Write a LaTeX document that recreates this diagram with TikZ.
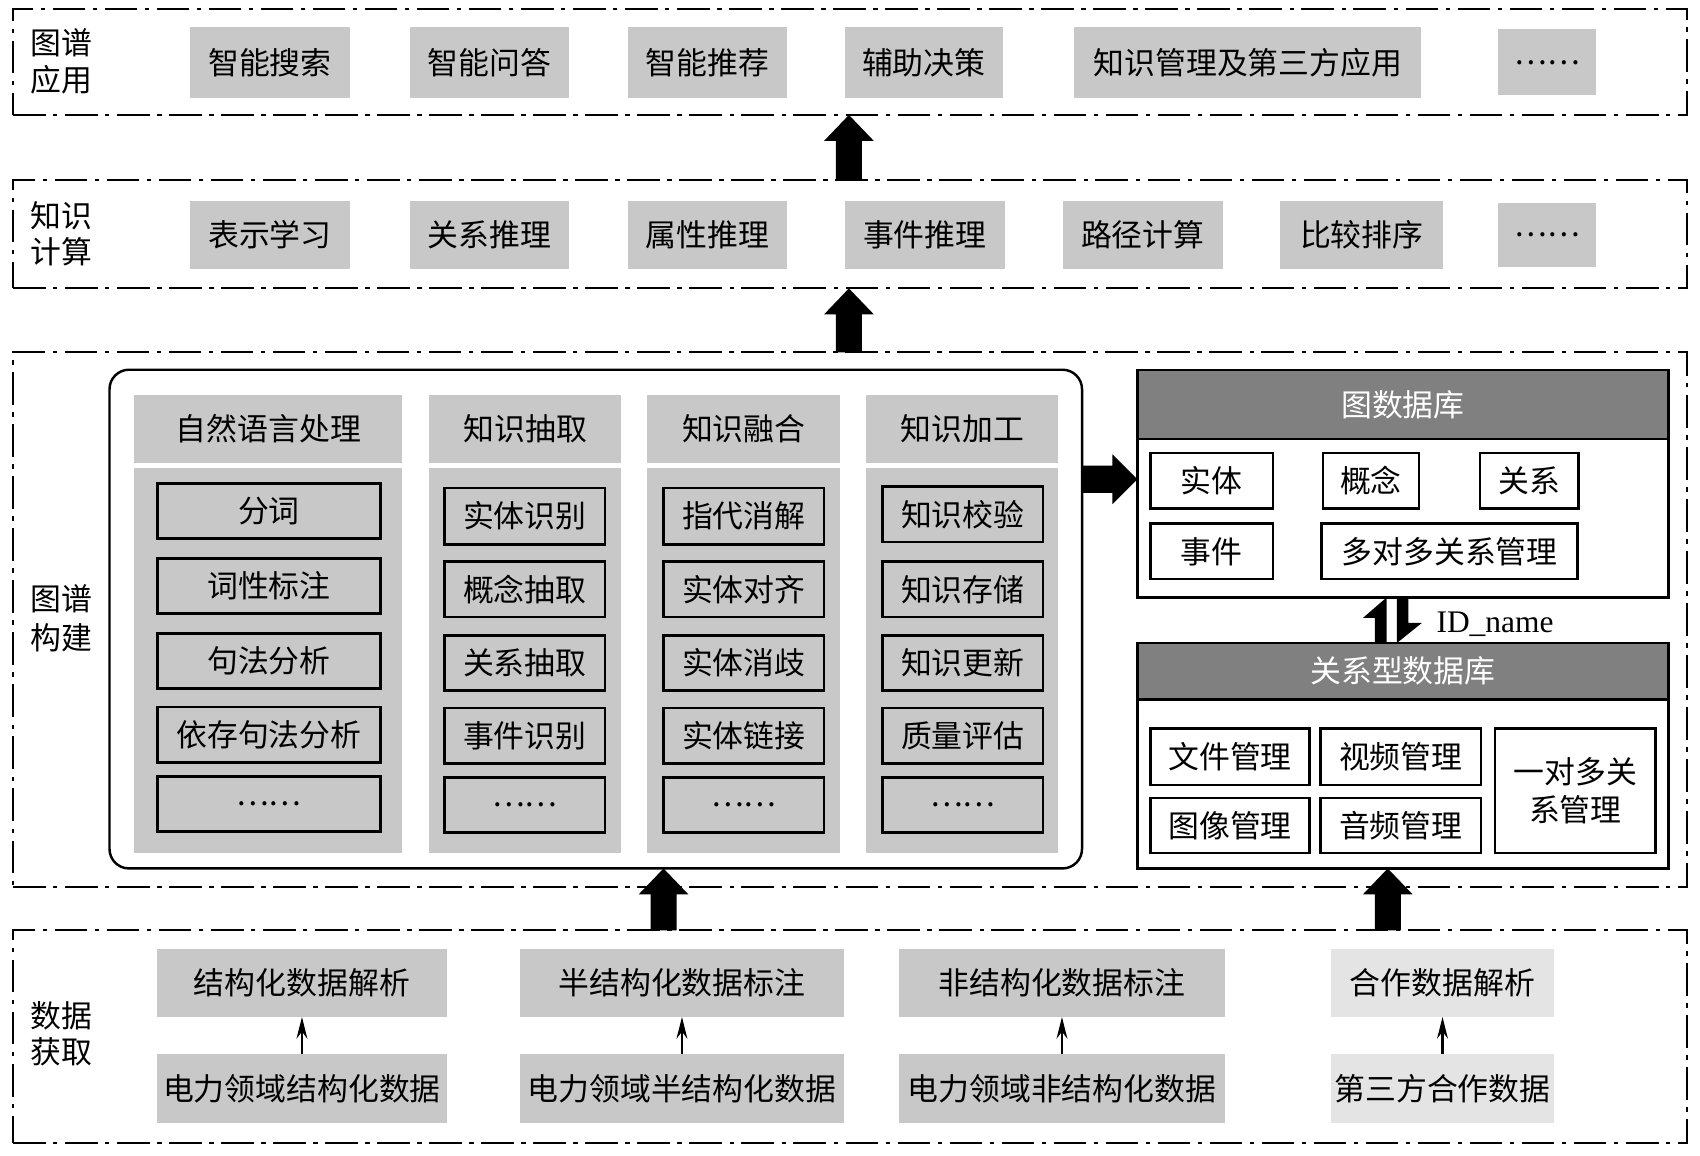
\documentclass[tikz,border=0pt]{standalone}
\usepackage{fontspec}
\setmainfont{Noto Sans CJK SC}
\newfontfamily\tnr{Liberation Serif}
\usetikzlibrary{arrows.meta,calc}
\definecolor{boxgray}{RGB}{200,200,200}
\definecolor{hdrgray}{RGB}{128,128,128}
\definecolor{lgray}{RGB}{228,228,228}
\newcommand\fs{\fontsize{16.2pt}{19pt}\selectfont}
\newcommand\mybox[7]{\node[#2, minimum width={(#4-#3)*0.02cm}, minimum height={(#6-#5)*0.02cm}] (#1) at ({(#3+#4)/2},{(#5+#6)/2}) {#7};}
\newcommand\bigup[2]{\fill let \p1=(#1), \p2=(#2) in ({\x1-0.24cm},\y1) -- ({\x1-0.24cm},{\y2-0.48cm}) -- ({\x1-0.46cm},{\y2-0.48cm}) -- (\x1,\y2) -- ({\x1+0.46cm},{\y2-0.48cm}) -- ({\x1+0.24cm},{\y2-0.48cm}) -- ({\x1+0.24cm},\y1) -- cycle;}
\newcommand\bigright[2]{\fill let \p1=(#1), \p2=(#2) in (\x1,{\y1-0.25cm}) -- ({\x2-0.46cm},{\y1-0.25cm}) -- ({\x2-0.46cm},{\y1-0.46cm}) -- (\x2,\y1) -- ({\x2-0.46cm},{\y1+0.46cm}) -- ({\x2-0.46cm},{\y1+0.25cm}) -- (\x1,{\y1+0.25cm}) -- cycle;}
\begin{document}
\begin{tikzpicture}[x=0.02cm,y=-0.02cm,
  every node/.style={font=\fs, inner sep=0pt, outer sep=0pt},
  layer/.style={draw, line width=0.04cm, dash pattern=on 0.6cm off 0.14cm on 0.08cm off 0.14cm},
  gbox/.style={fill=boxgray},
  lbox/.style={fill=lgray},
  item/.style={draw, line width=0.05cm, fill=boxgray},
  wbox/.style={draw, line width=0.045cm, fill=white},
  dbbox/.style={draw, line width=0.045cm},
  hdr/.style={draw, line width=0.045cm, fill=hdrgray, text=white},
  rbox/.style={draw, line width=0.045cm, rounded corners=0.36cm},
  lab/.style={align=center},
  sarrow/.style={line width=0.04cm, -{Stealth[length=0.4cm,width=0.2cm]}}]
\useasboundingbox (0,0) rectangle (1568,1066);
% layers
\mybox{L1}{layer}{12}{1556}{8}{106}{}
\mybox{L2}{layer}{12}{1556}{166}{266}{}
\mybox{L3}{layer}{12}{1556}{325}{818}{}
\mybox{L4}{layer}{12}{1556}{858}{1054}{}
\node[lab] (t1) at (57,56.5) {图谱\\应用};
\node[lab] (t2) at (57,215.5) {知识\\计算};
\node[lab,font=\fontsize{16.2pt}{20.5pt}\selectfont] (t3) at (57,570.5) {图谱\\构建};
\node[lab] (t4) at (57,953.5) {数据\\获取};
% row 1
\mybox{a1}{gbox}{175}{323}{25}{90}{智能搜索}
\mybox{a2}{gbox}{378}{525}{25}{90}{智能问答}
\mybox{a3}{gbox}{579}{726}{25}{90}{智能推荐}
\mybox{a4}{gbox}{779}{925}{25}{90}{辅助决策}
\mybox{a5}{gbox}{991}{1311}{25}{90}{知识管理及第三方应用}
\mybox{a6}{gbox}{1382}{1472}{27}{88}{……}
% row 2
\mybox{b1}{gbox}{175}{323}{185}{248}{表示学习}
\mybox{b2}{gbox}{378}{525}{185}{248}{关系推理}
\mybox{b3}{gbox}{579}{726}{185}{248}{属性推理}
\mybox{b4}{gbox}{779}{927}{185}{248}{事件推理}
\mybox{b5}{gbox}{980}{1128}{185}{248}{路径计算}
\mybox{b6}{gbox}{1181}{1331}{185}{248}{比较排序}
\mybox{b7}{gbox}{1382}{1472}{187}{246}{……}
% construction block
\mybox{rb}{rbox}{101}{998}{341}{801}{}
\mybox{h1}{gbox}{124}{371}{364}{427}{自然语言处理}
\mybox{h2}{gbox}{396}{573}{364}{427}{知识抽取}
\mybox{h3}{gbox}{597}{775}{364}{427}{知识融合}
\mybox{h4}{gbox}{799}{976}{364}{427}{知识加工}
\mybox{c1}{gbox}{124}{371}{432}{787}{}
\mybox{c2}{gbox}{396}{573}{432}{787}{}
\mybox{c3}{gbox}{597}{775}{432}{787}{}
\mybox{c4}{gbox}{799}{976}{432}{787}{}
\mybox{i11}{item}{145}{351}{446}{497}{分词}
\mybox{i12}{item}{145}{351}{515}{566}{词性标注}
\mybox{i13}{item}{145}{351}{584}{635}{句法分析}
\mybox{i14}{item}{145}{351}{652}{703}{依存句法分析}
\mybox{i15}{item}{145}{351}{716}{767}{……}
\mybox{i21}{item}{410}{558}{450}{502}{实体识别}
\mybox{i22}{item}{410}{558}{518}{569}{概念抽取}
\mybox{i23}{item}{410}{558}{586}{637}{关系抽取}
\mybox{i24}{item}{410}{558}{653}{704}{事件识别}
\mybox{i25}{item}{410}{558}{717}{768}{……}
\mybox{i31}{item}{612}{760}{450}{502}{指代消解}
\mybox{i32}{item}{612}{760}{518}{569}{实体对齐}
\mybox{i33}{item}{612}{760}{586}{637}{实体消歧}
\mybox{i34}{item}{612}{760}{653}{704}{实体链接}
\mybox{i35}{item}{612}{760}{717}{768}{……}
\mybox{i41}{item}{814}{962}{449}{500}{知识校验}
\mybox{i42}{item}{814}{962}{518}{569}{知识存储}
\mybox{i43}{item}{814}{962}{586}{637}{知识更新}
\mybox{i44}{item}{814}{962}{653}{704}{质量评估}
\mybox{i45}{item}{814}{962}{717}{768}{……}
% graph database
\mybox{gdb}{dbbox}{1049}{1539}{341}{551}{}
\mybox{gdbh}{hdr}{1049}{1539}{341}{405}{图数据库}
\mybox{g1}{wbox}{1061}{1174}{418}{469}{实体}
\mybox{g2}{wbox}{1220}{1309}{418}{469}{概念}
\mybox{g3}{wbox}{1365}{1456}{418}{469}{关系}
\mybox{g4}{wbox}{1061}{1174}{483}{534}{事件}
\mybox{g5}{wbox}{1219}{1455}{483}{534}{多对多关系管理}
% relational database
\mybox{rdb}{dbbox}{1049}{1539}{593}{801}{}
\mybox{rdbh}{hdr}{1049}{1539}{593}{645}{关系型数据库}
\mybox{r1}{wbox}{1061}{1208}{672}{724}{文件管理}
\mybox{r2}{wbox}{1218}{1366}{672}{724}{视频管理}
\mybox{r3}{wbox}{1061}{1208}{736}{787}{图像管理}
\mybox{r4}{wbox}{1218}{1366}{736}{787}{音频管理}
\node[wbox, align=center, minimum width={148*0.02cm}, minimum height={115*0.02cm}, font=\fontsize{16.2pt}{20pt}\selectfont] (r5) at (1453,729.5) {一对多关\\系管理};
\node[anchor=west, font=\tnr\fontsize{16.5pt}{19pt}\selectfont] (idn) at (1325,576) {ID\_name};
% data acquisition
\mybox{d1}{gbox}{145}{412}{875}{938}{结构化数据解析}
\mybox{e1}{gbox}{145}{412}{972}{1036}{电力领域结构化数据}
\mybox{d2}{gbox}{480}{778}{875}{938}{半结构化数据标注}
\mybox{e2}{gbox}{480}{778}{972}{1036}{电力领域半结构化数据}
\mybox{d3}{gbox}{829}{1130}{875}{938}{非结构化数据标注}
\mybox{e3}{gbox}{829}{1130}{972}{1036}{电力领域非结构化数据}
\mybox{d4}{lbox}{1228}{1433}{875}{938}{合作数据解析}
\mybox{e4}{lbox}{1228}{1433}{972}{1036}{第三方合作数据}
\draw[sarrow] (e1.north) -- (d1.south);
\draw[sarrow] (e2.north) -- (d2.south);
\draw[sarrow] (e3.north) -- (d3.south);
\draw[sarrow] (e4.north) -- (d4.south);
% big arrows
\coordinate (xa) at (783,0);
\coordinate (xc) at (612,0);
\coordinate (xd) at (1280,0);
\coordinate (yr) at (0,442);
\bigup{xa |- L2.north}{xa |- L1.south}
\bigup{xa |- L3.north}{xa |- L2.south}
\bigup{xc |- L4.north}{xc |- rb.south}
\bigup{xd |- L4.north}{xd |- rdb.south}
\bigright{rb.east |- yr}{gdb.west |- yr}
% harpoons
\coordinate (hu) at (1279,0);
\coordinate (hd) at (1288.5,0);
\fill let \p1=(hu |- rdb.north), \p2=(hu |- gdb.south) in (\x1,\y1) -- (\x2,\y2) -- ({\x2-0.44cm},{\y2-0.38cm}) -- ({\x2-0.22cm},{\y2-0.38cm}) -- ({\x1-0.22cm},\y1) -- cycle;
\fill let \p1=(hd |- gdb.south), \p2=(hd |- rdb.north) in (\x1,\y1) -- ({\x1+0.21cm},\y1) -- ({\x1+0.21cm},{\y2+0.37cm}) -- ({\x1+0.46cm},{\y2+0.37cm}) -- (\x2,\y2) -- cycle;
\end{tikzpicture}
\end{document}
